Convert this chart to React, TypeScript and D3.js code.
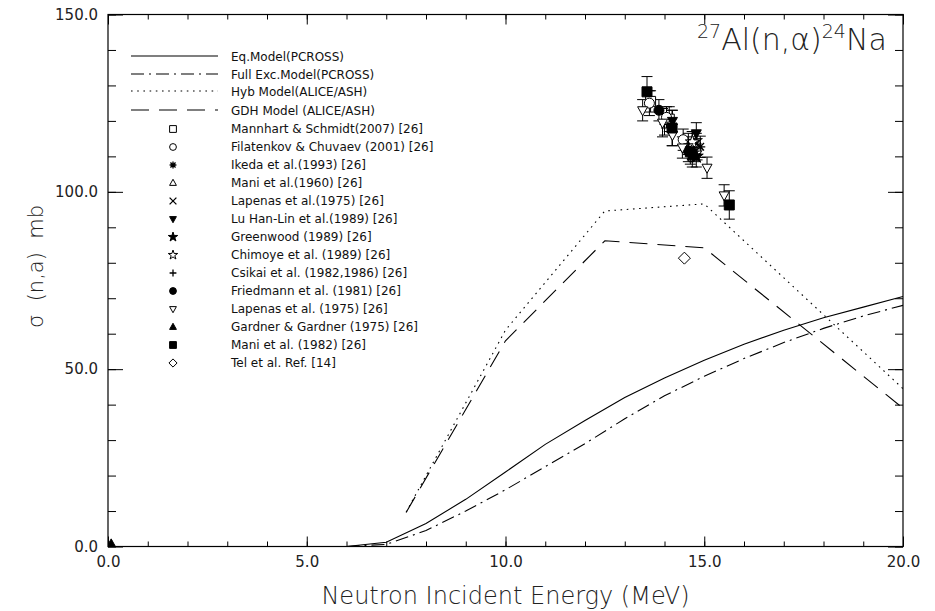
import { useEffect, useRef } from "react";
import * as d3 from "d3";

// ---- model curves ----
const pcrossEnergy = [6, 7, 8, 9, 10, 11, 12, 13, 14, 15, 16, 17, 18, 19, 20];
const eqModel = [0, 1.2, 6.5, 13.3, 21, 28.8, 35.5, 42, 47.5, 52.5, 57, 61, 64.5, 67.5, 70.5];
const fullExcModel = [0, 0.6, 4.5, 10, 16, 22.5, 29, 36, 42.5, 48, 53, 57.5, 61.5, 65, 68];

const aliceEnergy = [7.5, 10, 12.5, 15, 20];
const hybModel = [9.7, 61, 94.6, 96.6, 44.5];
const gdhModel = [9.6, 58, 86.2, 84.2, 39];

// ---- experimental data: [energy MeV, sigma mb, error mb] ----
const mannhart2007 = [[13.65, 125.5, 3], [14.12, 120.5, 3.5], [14.7, 112.5, 3]];
const filatenkov2001 = [[13.62, 125, 3.5], [14.05, 121, 3], [14.47, 114.7, 3], [14.82, 112, 3]];
const ikeda1993 = [[14.9, 112.7, 3], [14.75, 111.5, 3]];
const mani1960 = [[14.7, 113, 4]];
const lapenasX1975 = [[14.8, 113.5, 3]];
const luHanLin1989 = [[14.2, 120, 3], [14.8, 116.5, 3]];
const greenwood1989 = [[14.8, 110, 3]];
const chimoye1989 = [[14.7, 114, 3]];
const csikai1982 = [[14.6, 113.5, 3], [14.0, 119, 3]];
const friedmann1981 = [[13.86, 123, 3], [14.6, 111.5, 3]];
const lapenas1975 = [[13.45, 123, 3], [13.95, 119.5, 4], [14.45, 112.5, 3], [15.07, 106.8, 3], [15.5, 99, 3], [14.2, 116, 3]];
const gardner1975 = [[14.7, 110, 3], [0.08, 0.6, 0]];
const mani1982 = [[13.56, 128.2, 4.3], [14.19, 118, 5], [14.65, 111.3, 3.5], [15.63, 96.3, 4]];
const tel = [[14.5, 81.3, 0]];

const xTicks = [0, 5, 10, 15, 20];
const yTicks = [0, 50, 100, 150];

const lineSeries = [
  { label: "Eq.Model(PCROSS)", x: pcrossEnergy, y: eqModel, dash: "" },
  { label: "Full Exc.Model(PCROSS)", x: pcrossEnergy, y: fullExcModel, dash: "13,5,2,5" },
  { label: "Hyb Model(ALICE/ASH)", x: aliceEnergy, y: hybModel, dash: "1.6,4.6" },
  { label: "GDH Model (ALICE/ASH)", x: aliceEnergy, y: gdhModel, dash: "18,10" },
];

const expSeries = [
  { label: "Mannhart & Schmidt(2007) [26]", kind: "square", fill: false, data: mannhart2007 },
  { label: "Filatenkov & Chuvaev (2001) [26]", kind: "circle", fill: false, data: filatenkov2001 },
  { label: "Ikeda et al.(1993) [26]", kind: "asterisk", fill: false, data: ikeda1993 },
  { label: "Mani et al.(1960) [26]", kind: "triUp", fill: false, data: mani1960 },
  { label: "Lapenas et al.(1975) [26]", kind: "times", fill: false, data: lapenasX1975 },
  { label: "Lu Han-Lin et al.(1989) [26]", kind: "triDown", fill: true, data: luHanLin1989 },
  { label: "Greenwood (1989) [26]", kind: "star", fill: true, data: greenwood1989 },
  { label: "Chimoye  et al. (1989) [26]", kind: "star", fill: false, data: chimoye1989 },
  { label: "Csikai  et al. (1982,1986) [26]", kind: "plus", fill: false, data: csikai1982 },
  { label: "Friedmann  et al. (1981) [26]", kind: "circle", fill: true, data: friedmann1981 },
  { label: "Lapenas et al. (1975) [26]", kind: "triDown", fill: false, data: lapenas1975 },
  { label: "Gardner & Gardner (1975) [26]", kind: "triUp", fill: true, data: gardner1975 },
  { label: "Mani et al. (1982) [26]", kind: "square", fill: true, data: mani1982 },
  { label: "Tel et al. Ref.  [14]", kind: "diamond", fill: false, data: tel },
];

const FONT = "'DejaVu Sans', sans-serif";

function markerPath(kind, r) {
  switch (kind) {
    case "square":
      return `M${-r},${-r}H${r}V${r}H${-r}Z`;
    case "circle":
      return d3.symbol(d3.symbolCircle, Math.PI * r * r)();
    case "triUp":
      return `M0,${-r * 1.1}L${r},${r * 0.7}L${-r},${r * 0.7}Z`;
    case "triDown":
      return `M0,${r * 1.1}L${r},${-r * 0.7}L${-r},${-r * 0.7}Z`;
    case "diamond":
      return `M0,${-r * 1.2}L${r * 1.2},0L0,${r * 1.2}L${-r * 1.2},0Z`;
    case "star":
      return d3.symbol(d3.symbolStar, r * r * 2.4)();
    case "plus":
      return `M${-r},0H${r}M0,${-r}V${r}`;
    case "times":
      return `M${-r},${-r}L${r},${r}M${-r},${r}L${r},${-r}`;
    case "asterisk": {
      const k = r * 0.75;
      return `M${-r},0H${r}M0,${-r}V${r}M${-k},${-k}L${k},${k}M${-k},${k}L${k},${-k}`;
    }
    default:
      return "";
  }
}

function drawMarker(g, kind, fill, x, y, r) {
  const strokeOnly = kind === "plus" || kind === "times" || kind === "asterisk";
  g.append("path")
    .attr("d", markerPath(kind, r))
    .attr("transform", `translate(${x},${y})`)
    .attr("fill", strokeOnly ? "none" : fill ? "#000" : "#fff")
    .attr("stroke", "#000")
    .attr("stroke-width", strokeOnly ? 1.3 : 1);
}

export default function App() {
  const svgRef = useRef(null);

  useEffect(() => {
    const svg = d3.select(svgRef.current);
    svg.selectAll("*").remove();

    const width = 935;
    const height = 611;
    const margin = { top: 14.5, right: 32, bottom: 64.5, left: 108 };
    svg.attr("width", width).attr("height", height);

    const x = d3.scaleLinear().domain([0, 20]).range([margin.left, width - margin.right]);
    const y = d3.scaleLinear().domain([0, 150]).range([height - margin.bottom, margin.top]);
    const x0 = x.range()[0], x1 = x.range()[1];
    const y0 = y.range()[0], y1 = y.range()[1];

    const axes = svg.append("g").attr("font-family", FONT);

    const tickStyle = (g) => {
      g.select(".domain").remove();
      g.selectAll(".tick line").attr("stroke", "#000").attr("stroke-width", 1);
      g.selectAll("text").attr("font-family", FONT).attr("font-size", 15).attr("fill", "#222");
    };

    // bottom
    axes.append("g").attr("transform", `translate(0,${y0})`)
      .call(d3.axisBottom(x).tickValues(d3.range(0, 21, 1)).tickSizeInner(-5).tickSizeOuter(0).tickFormat(() => ""))
      .call(tickStyle);
    axes.append("g").attr("transform", `translate(0,${y0})`)
      .call(d3.axisBottom(x).tickValues(xTicks).tickSizeInner(-10).tickSizeOuter(0).tickPadding(10).tickFormat(d3.format(".1f")))
      .call(tickStyle);
    // top
    axes.append("g").attr("transform", `translate(0,${y1})`)
      .call(d3.axisTop(x).tickValues(d3.range(0, 21, 1)).tickSizeInner(-5).tickSizeOuter(0).tickFormat(() => ""))
      .call(tickStyle);
    axes.append("g").attr("transform", `translate(0,${y1})`)
      .call(d3.axisTop(x).tickValues(xTicks).tickSizeInner(-10).tickSizeOuter(0).tickFormat(() => ""))
      .call(tickStyle);
    // left
    axes.append("g").attr("transform", `translate(${x0},0)`)
      .call(d3.axisLeft(y).tickValues(d3.range(0, 151, 10)).tickSizeInner(-8).tickSizeOuter(0).tickFormat(() => ""))
      .call(tickStyle);
    axes.append("g").attr("transform", `translate(${x0},0)`)
      .call(d3.axisLeft(y).tickValues(yTicks).tickSizeInner(-15).tickSizeOuter(0).tickPadding(10).tickFormat(d3.format(".1f")))
      .call(tickStyle);
    // right
    axes.append("g").attr("transform", `translate(${x1},0)`)
      .call(d3.axisRight(y).tickValues(d3.range(0, 151, 10)).tickSizeInner(-8).tickSizeOuter(0).tickFormat(() => ""))
      .call(tickStyle);
    axes.append("g").attr("transform", `translate(${x1},0)`)
      .call(d3.axisRight(y).tickValues(yTicks).tickSizeInner(-15).tickSizeOuter(0).tickFormat(() => ""))
      .call(tickStyle);

    // frame
    svg.append("rect")
      .attr("x", x0).attr("y", y1)
      .attr("width", x1 - x0).attr("height", y0 - y1)
      .attr("fill", "none").attr("stroke", "#000").attr("stroke-width", 1.2);

    // clip
    svg.append("clipPath").attr("id", "plotClip")
      .append("rect").attr("x", x0).attr("y", y1).attr("width", x1 - x0).attr("height", y0 - y1);
    const plot = svg.append("g").attr("clip-path", "url(#plotClip)");

    // model curves
    const line = d3.line().x((d) => x(d[0])).y((d) => y(d[1]));
    lineSeries.forEach((s) => {
      plot.append("path")
        .datum(s.x.map((e, i) => [e, s.y[i]]))
        .attr("fill", "none")
        .attr("stroke", "#000")
        .attr("stroke-width", 1.1)
        .attr("stroke-dasharray", s.dash || null)
        .attr("d", line);
    });

    // experimental points with error bars
    expSeries.forEach((s) => {
      s.data.forEach((d) => {
        const [e, v, err] = d;
        if (err > 0) {
          const cx = x(e);
          plot.append("path")
            .attr("d", `M${cx},${y(v - err)}V${y(v + err)}M${cx - 5.5},${y(v - err)}H${cx + 5.5}M${cx - 5.5},${y(v + err)}H${cx + 5.5}`)
            .attr("stroke", "#000").attr("stroke-width", 1).attr("fill", "none");
        }
      });
    });
    expSeries.forEach((s) => {
      s.data.forEach((d) => drawMarker(plot, s.kind, s.fill, x(d[0]), y(d[1]), 5));
    });

    // legend
    const legend = svg.append("g").attr("font-family", FONT).attr("font-size", 12).attr("fill", "#111")
      .style("white-space", "pre");
    const lineRows = [57, 75, 92, 111];
    lineSeries.forEach((s, i) => {
      legend.append("line")
        .attr("x1", 131).attr("x2", 218)
        .attr("y1", lineRows[i] - 1).attr("y2", lineRows[i] - 1)
        .attr("stroke", "#000").attr("stroke-width", 1.1)
        .attr("stroke-dasharray", s.dash || null);
      legend.append("text").attr("x", 231).attr("y", lineRows[i]).attr("dy", "0.35em").text(s.label);
    });
    expSeries.forEach((s, i) => {
      const ry = 129 + i * 18;
      drawMarker(legend, s.kind, s.fill, 173, ry, 3.4);
      legend.append("text").attr("x", 231).attr("y", ry).attr("dy", "0.35em").text(s.label);
    });

    // title
    const title = svg.append("text")
      .attr("x", 697).attr("y", 50)
      .attr("font-family", FONT).attr("font-size", 30).attr("font-weight", 300).attr("fill", "#222");
    title.append("tspan").attr("font-size", 19).attr("dy", -12).text("27");
    title.append("tspan").attr("dy", 12).text("Al(n,α)");
    title.append("tspan").attr("font-size", 19).attr("dy", -12).text("24");
    title.append("tspan").attr("dy", 12).text("Na");

    // axis titles
    svg.append("text")
      .attr("x", (x0 + x1) / 2).attr("y", 604)
      .attr("text-anchor", "middle")
      .attr("font-family", FONT).attr("font-size", 24).attr("font-weight", 300).attr("fill", "#222")
      .text("Neutron Incident Energy (MeV)");
    svg.append("text")
      .attr("transform", `translate(43,${(y0 + y1) / 2 - 14}) rotate(-90)`)
      .attr("text-anchor", "middle")
      .style("white-space", "pre")
      .attr("font-family", FONT).attr("font-size", 21).attr("font-weight", 300).attr("fill", "#222")
      .text("σ  (n,a)  mb");
  }, []);

  return (
    <div style={{ position: "absolute", left: 0, top: 0 }}>
      <svg ref={svgRef} style={{ display: "block" }} />
    </div>
  );
}
